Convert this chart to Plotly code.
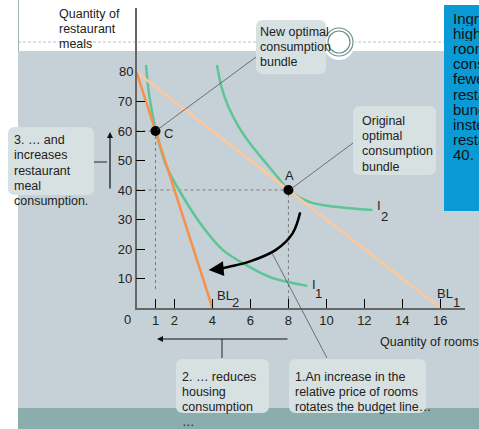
import plotly.graph_objects as go

W, H = 479, 429
FONT = "Liberation Sans, Arial, sans-serif"
TXT = "#222222"

# budget lines (rooms, restaurant meals)
bl1_x = [0, 16]
bl1_y = [80, 0]
bl2_x = [0, 4]
bl2_y = [80, 0]

# indifference curves
i1_x = [0.5, 0.67, 1.03, 1.55, 2.34, 3.48, 4.54, 5.76, 6.99, 8.04, 9.0]
i1_y = [82.4, 72.2, 60, 48.5, 38.9, 27.6, 19.7, 14.6, 10.6, 8.7, 7.5]
i2_x = [4.24, 4.45, 4.8, 5.33, 6.03, 6.9, 7.7, 8.0, 9.1, 10.5, 12.43]
i2_y = [82.4, 75.6, 68.8, 62.0, 55.3, 48.5, 42.3, 40, 36.0, 34.3, 33.2]

# optimal bundles
pt_names = ["A", "C"]
pt_x = [8, 1]
pt_y = [40, 60]

# curved arrow showing the move from A
shift_x = [8.62, 8.22, 7.34, 5.94, 4.88, 4.2]
shift_y = [32.4, 25.3, 19.7, 15.7, 14.0, 13.1]

x_ticks = [1, 2, 4, 6, 8, 10, 12, 14, 16]
y_ticks = [10, 20, 30, 40, 50, 60, 70]


def px(x):
    return x / W


def py(y):
    return 1 - y / H


def box_path(x0, y0, x1, y1, r=7):
    p = lambda x, y: f"{px(x)},{py(y)}"
    return (f"M {p(x0 + r, y0)} L {p(x1 - r, y0)} Q {p(x1, y0)} {p(x1, y0 + r)} "
            f"L {p(x1, y1 - r)} Q {p(x1, y1)} {p(x1 - r, y1)} L {p(x0 + r, y1)} "
            f"Q {p(x0, y1)} {p(x0, y1 - r)} L {p(x0, y0 + r)} Q {p(x0, y0)} {p(x0 + r, y0)} Z")


def add_lines(fig, lines, x, y0, dy, size=12.5, color=TXT, h=None):
    for i, t in enumerate(lines):
        fig.add_annotation(x=px(x), y=py(y0 + i * dy), xref="paper", yref="paper",
                           text=t, showarrow=False, xanchor="left", yanchor="middle",
                           height=h, borderpad=0,
                           font=dict(size=size, color=color, family=FONT))


def line(fig, x0, y0, x1, y1, color="#555555", width=1, dash=None, layer="above"):
    fig.add_shape(type="line", xref="paper", yref="paper", layer=layer,
                  x0=px(x0), y0=py(y0), x1=px(x1), y1=py(y1),
                  line=dict(color=color, width=width, dash=dash))


fig = go.Figure()

# dotted guides to the axes
fig.add_trace(go.Scatter(x=[0, pt_x[1], pt_x[1]], y=[pt_y[1], pt_y[1], 6], mode="lines",
                         line=dict(color="#7a7a7a", width=1, dash="dot"), hoverinfo="skip"))
fig.add_trace(go.Scatter(x=[0, pt_x[0], pt_x[0]], y=[pt_y[0], pt_y[0], 3], mode="lines",
                         line=dict(color="#7a7a7a", width=1, dash="dot"), hoverinfo="skip"))

fig.add_trace(go.Scatter(x=i1_x, y=i1_y, mode="lines", line=dict(color="#5ec596", width=2.5, shape="spline")))
fig.add_trace(go.Scatter(x=i2_x, y=i2_y, mode="lines", line=dict(color="#5ec596", width=2.5, shape="spline")))
fig.add_trace(go.Scatter(x=bl1_x, y=bl1_y, mode="lines", line=dict(color="#fcc89c", width=2.5)))
fig.add_trace(go.Scatter(x=bl2_x, y=bl2_y, mode="lines", line=dict(color="#f7904a", width=2.5)))
fig.add_trace(go.Scatter(x=shift_x, y=shift_y, mode="lines", line=dict(color="black", width=2.5, shape="spline")))
fig.add_trace(go.Scatter(x=pt_x, y=pt_y, mode="markers", marker=dict(color="black", size=10), cliponaxis=False))

fig.add_annotation(x=3.8, y=12.9, ax=4.5, ay=13.3, xref="x", yref="y", axref="x", ayref="y",
                   showarrow=True, arrowhead=2, arrowsize=1.2, arrowwidth=2.5, arrowcolor="black", text="")

# backgrounds
fig.add_shape(type="rect", xref="paper", yref="paper", layer="below",
              x0=px(18), x1=1, y0=py(408), y1=py(51), fillcolor="#c6d1d7", line_width=0)
fig.add_shape(type="rect", xref="paper", yref="paper", layer="below",
              x0=px(18), x1=1, y0=0, y1=py(408), fillcolor="#8aadad", line_width=0)
line(fig, 18.5, 0, 18.5, 51, color="#a3b6b8", layer="below")
line(fig, 18, 42, 325, 42, color="#9dbaba", width=0.8, dash="3px,2px", layer="below")
line(fig, 353, 42, 444, 42, color="#9dbaba", width=0.8, dash="3px,2px", layer="below")

# ring decoration
fig.add_shape(type="circle", xref="paper", yref="paper", layer="below",
              x0=px(323), x1=px(355), y0=py(60), y1=py(26), fillcolor="white", line_width=0)
fig.add_shape(type="circle", xref="paper", yref="paper",
              x0=px(325), x1=px(353), y0=py(56), y1=py(28), line=dict(color="#6f8e8e", width=1.2))
fig.add_shape(type="circle", xref="paper", yref="paper",
              x0=px(328), x1=px(350), y0=py(53), y1=py(31), line=dict(color="#6f8e8e", width=1.2))

# callout boxes
for b in [(256, 20, 326, 74), (353, 106, 436, 175), (8, 127, 94, 195),
          (176, 359, 269, 413), (289, 359, 426, 413)]:
    fig.add_shape(type="path", xref="paper", yref="paper", path=box_path(*b),
                  fillcolor="#d7e1e1", line_width=0)

# blue side panel (its text runs off the right edge, as in the original)
fig.add_shape(type="rect", xref="paper", yref="paper", x0=px(444), x1=1.02, y0=py(211), y1=py(5),
              fillcolor="#0a9bd6", line_width=0)
add_lines(fig, ["Ingrid's", "higher", "rooms", "consumes", "fewer", "restaurant",
                "bundle", "instead", "restaurant", "40."], 452, 18, 15.2, size=15,
          color="#111111", h=15)

# connector lines and arrows
line(fig, 157, 130, 256, 57, color="#555555", width=0.8)
line(fig, 291, 189, 353, 143, color="#555555", width=0.8)
line(fig, 272, 253, 327, 358, color="#555555", width=0.8)
line(fig, 94, 162, 107, 162, color="#222222", width=1)
line(fig, 222, 339, 222, 358, color="#222222", width=1)
fig.add_annotation(x=px(110), y=py(132), xref="paper", yref="paper", ax=0, ay=58,
                   showarrow=True, arrowhead=2, arrowwidth=1.2, arrowcolor="#111111", text="")
fig.add_annotation(x=px(157), y=py(339), xref="paper", yref="paper", ax=132, ay=0,
                   showarrow=True, arrowhead=2, arrowwidth=1.2, arrowcolor="#111111", text="")

# texts
add_lines(fig, ["Quantity of", "restaurant", "meals"], 58, 14, 15.2)
add_lines(fig, ["Quantity of rooms"], 379, 342, 15)
add_lines(fig, ["New optimal", "consumption", "bundle"], 259, 32.3, 14.7)
add_lines(fig, ["Original", "optimal", "consumption", "bundle"], 360.5, 120.7, 15.3)
add_lines(fig, ["3. \u2026 and", "increases", "restaurant", "meal", "consumption."], 12.5, 140, 15.3)
add_lines(fig, ["2. \u2026 reduces", "housing", "consumption", "\u2026"], 181, 376.7, 15)
add_lines(fig, ["1.An increase in the", "relative price of rooms", "rotates the budget line\u2026"],
          294, 376.7, 15)

add_lines(fig, ["A"], 284, 175, 0, size=13)
add_lines(fig, ["C"], 163, 133, 0, size=13)
add_lines(fig, ["BL"], 216, 295, 0, size=13)
add_lines(fig, ["2"], 231, 302, 0, size=13)
add_lines(fig, ["BL"], 436, 293, 0, size=13)
add_lines(fig, ["1"], 452, 302, 0, size=13)
add_lines(fig, ["I"], 376, 206, 0, size=13)
add_lines(fig, ["2"], 380, 216, 0, size=13)
add_lines(fig, ["I"], 311, 284, 0, size=13)
add_lines(fig, ["1"], 314, 293, 0, size=13)
add_lines(fig, ["80"], 118, 72, 0, size=13)
add_lines(fig, ["0"], 123, 319, 0, size=13)

fig.update_layout(
    width=W, height=H, margin=dict(l=0, r=0, t=0, b=0),
    paper_bgcolor="white", plot_bgcolor="rgba(0,0,0,0)", showlegend=False,
    font=dict(family=FONT, size=13, color=TXT),
    xaxis=dict(range=[0, 17.3], domain=[136.5 / W, 465 / W], tickvals=x_ticks,
               ticks="inside", ticklen=9, tickwidth=1.3, tickcolor="black",
               showline=True, linecolor="#666666", linewidth=1.5,
               showgrid=False, zeroline=False, tickfont=dict(size=13, color=TXT)),
    yaxis=dict(range=[0, 101.7], domain=[1 - 308 / H, 1 - 8 / H], tickvals=y_ticks,
               ticks="inside", ticklen=9, tickwidth=1.3, tickcolor="black",
               showline=True, linecolor="#666666", linewidth=1.5,
               showgrid=False, zeroline=False, tickfont=dict(size=13, color=TXT)),
)

# the page's default body margin would shift the figure, so drop it
fig.write_html("out.html", config={"displayModeBar": False},
               post_script="document.body.style.margin='0';document.body.style.overflow='hidden';")
